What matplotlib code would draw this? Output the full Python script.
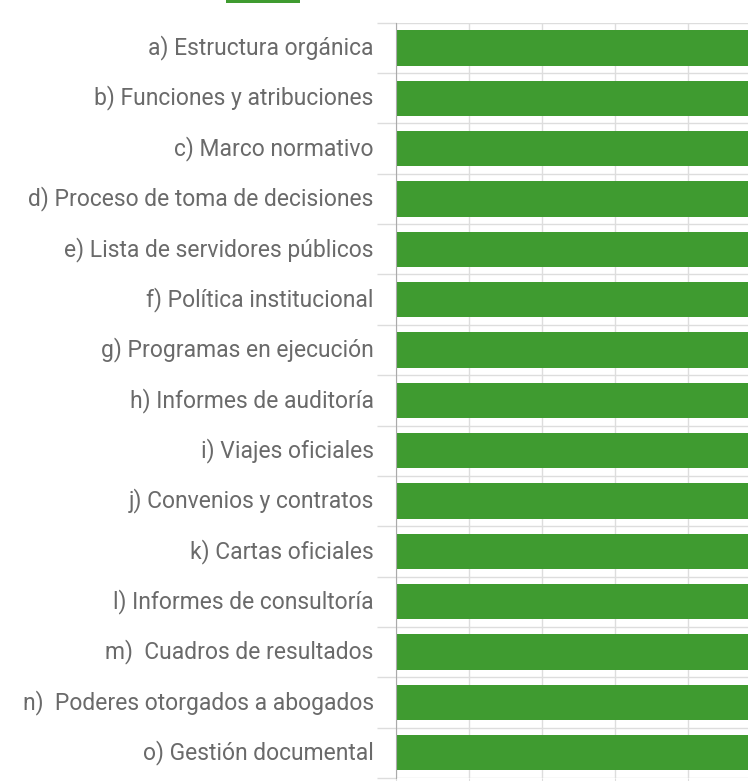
import matplotlib.pyplot as plt
import matplotlib.transforms as mtransforms
from matplotlib.patches import Rectangle
import numpy as np

categories = [
    "a) Estructura orgánica",
    "b) Funciones y atribuciones",
    "c) Marco normativo",
    "d) Proceso de toma de decisiones",
    "e) Lista de servidores públicos",
    "f) Política institucional",
    "g) Programas en ejecución",
    "h) Informes de auditoría",
    "i) Viajes oficiales",
    "j) Convenios y contratos",
    "k) Cartas oficiales",
    "l) Informes de consultoría",
    "m)  Cuadros de resultados",
    "n)  Poderes otorgados a abogados",
    "o) Gestión documental",
]
values = [100] * len(categories)
x_ticks = [0, 20, 40, 60, 80, 100]

green = "#3f9b30"
text_color = "#6a6a6a"
grid_color = "#dddddd"

W, H = 748, 781
fig = plt.figure(figsize=(W / 100, H / 100), dpi=100)
fig.patch.set_facecolor("white")

left_px, right_px = 396, 761
top_px, bottom_px = 22.7, 778
ax = fig.add_axes([left_px / W, (H - bottom_px) / H,
                   (right_px - left_px) / W, (bottom_px - top_px) / H])

y = np.arange(len(categories))
ax.barh(y, values, height=0.7, color=green, zorder=3)

ax.set_xlim(0, 100)
ax.set_ylim(len(categories) - 0.5, -0.5)

ax.set_yticks(y)
ax.set_yticklabels(categories, fontsize=16.5, color=text_color,
                   family=["Roboto", "DejaVu Sans"])
ax.set_yticks(np.arange(-0.5, len(categories)), minor=True)
ax.tick_params(axis="y", which="major", length=0, pad=16)
ax.tick_params(axis="y", which="minor", length=14, color=grid_color, width=1)

# nudge the category labels up a little
shift = mtransforms.ScaledTranslation(0, 3 / 100, fig.dpi_scale_trans)
for lbl in ax.get_yticklabels():
    lbl.set_transform(lbl.get_transform() + shift)

ax.set_xticks(x_ticks)
ax.tick_params(axis="x", which="major", length=6, color=grid_color,
               labelbottom=False)

ax.grid(True, axis="x", which="major", color=grid_color, linewidth=1, zorder=0)
ax.grid(True, axis="y", which="minor", color=grid_color, linewidth=1, zorder=0)

for side in ["top", "right", "bottom"]:
    ax.spines[side].set_visible(False)
ax.spines["left"].set_color("#aaaaaa")
ax.spines["left"].set_zorder(4)

# legend swatch, cut off at the top edge
fig.patches.append(Rectangle((226 / W, (H - 2.5) / H), 74 / W, 0.02,
                             transform=fig.transFigure, facecolor=green,
                             edgecolor="none"))

fig.savefig("out.png", dpi=100, facecolor="white")
